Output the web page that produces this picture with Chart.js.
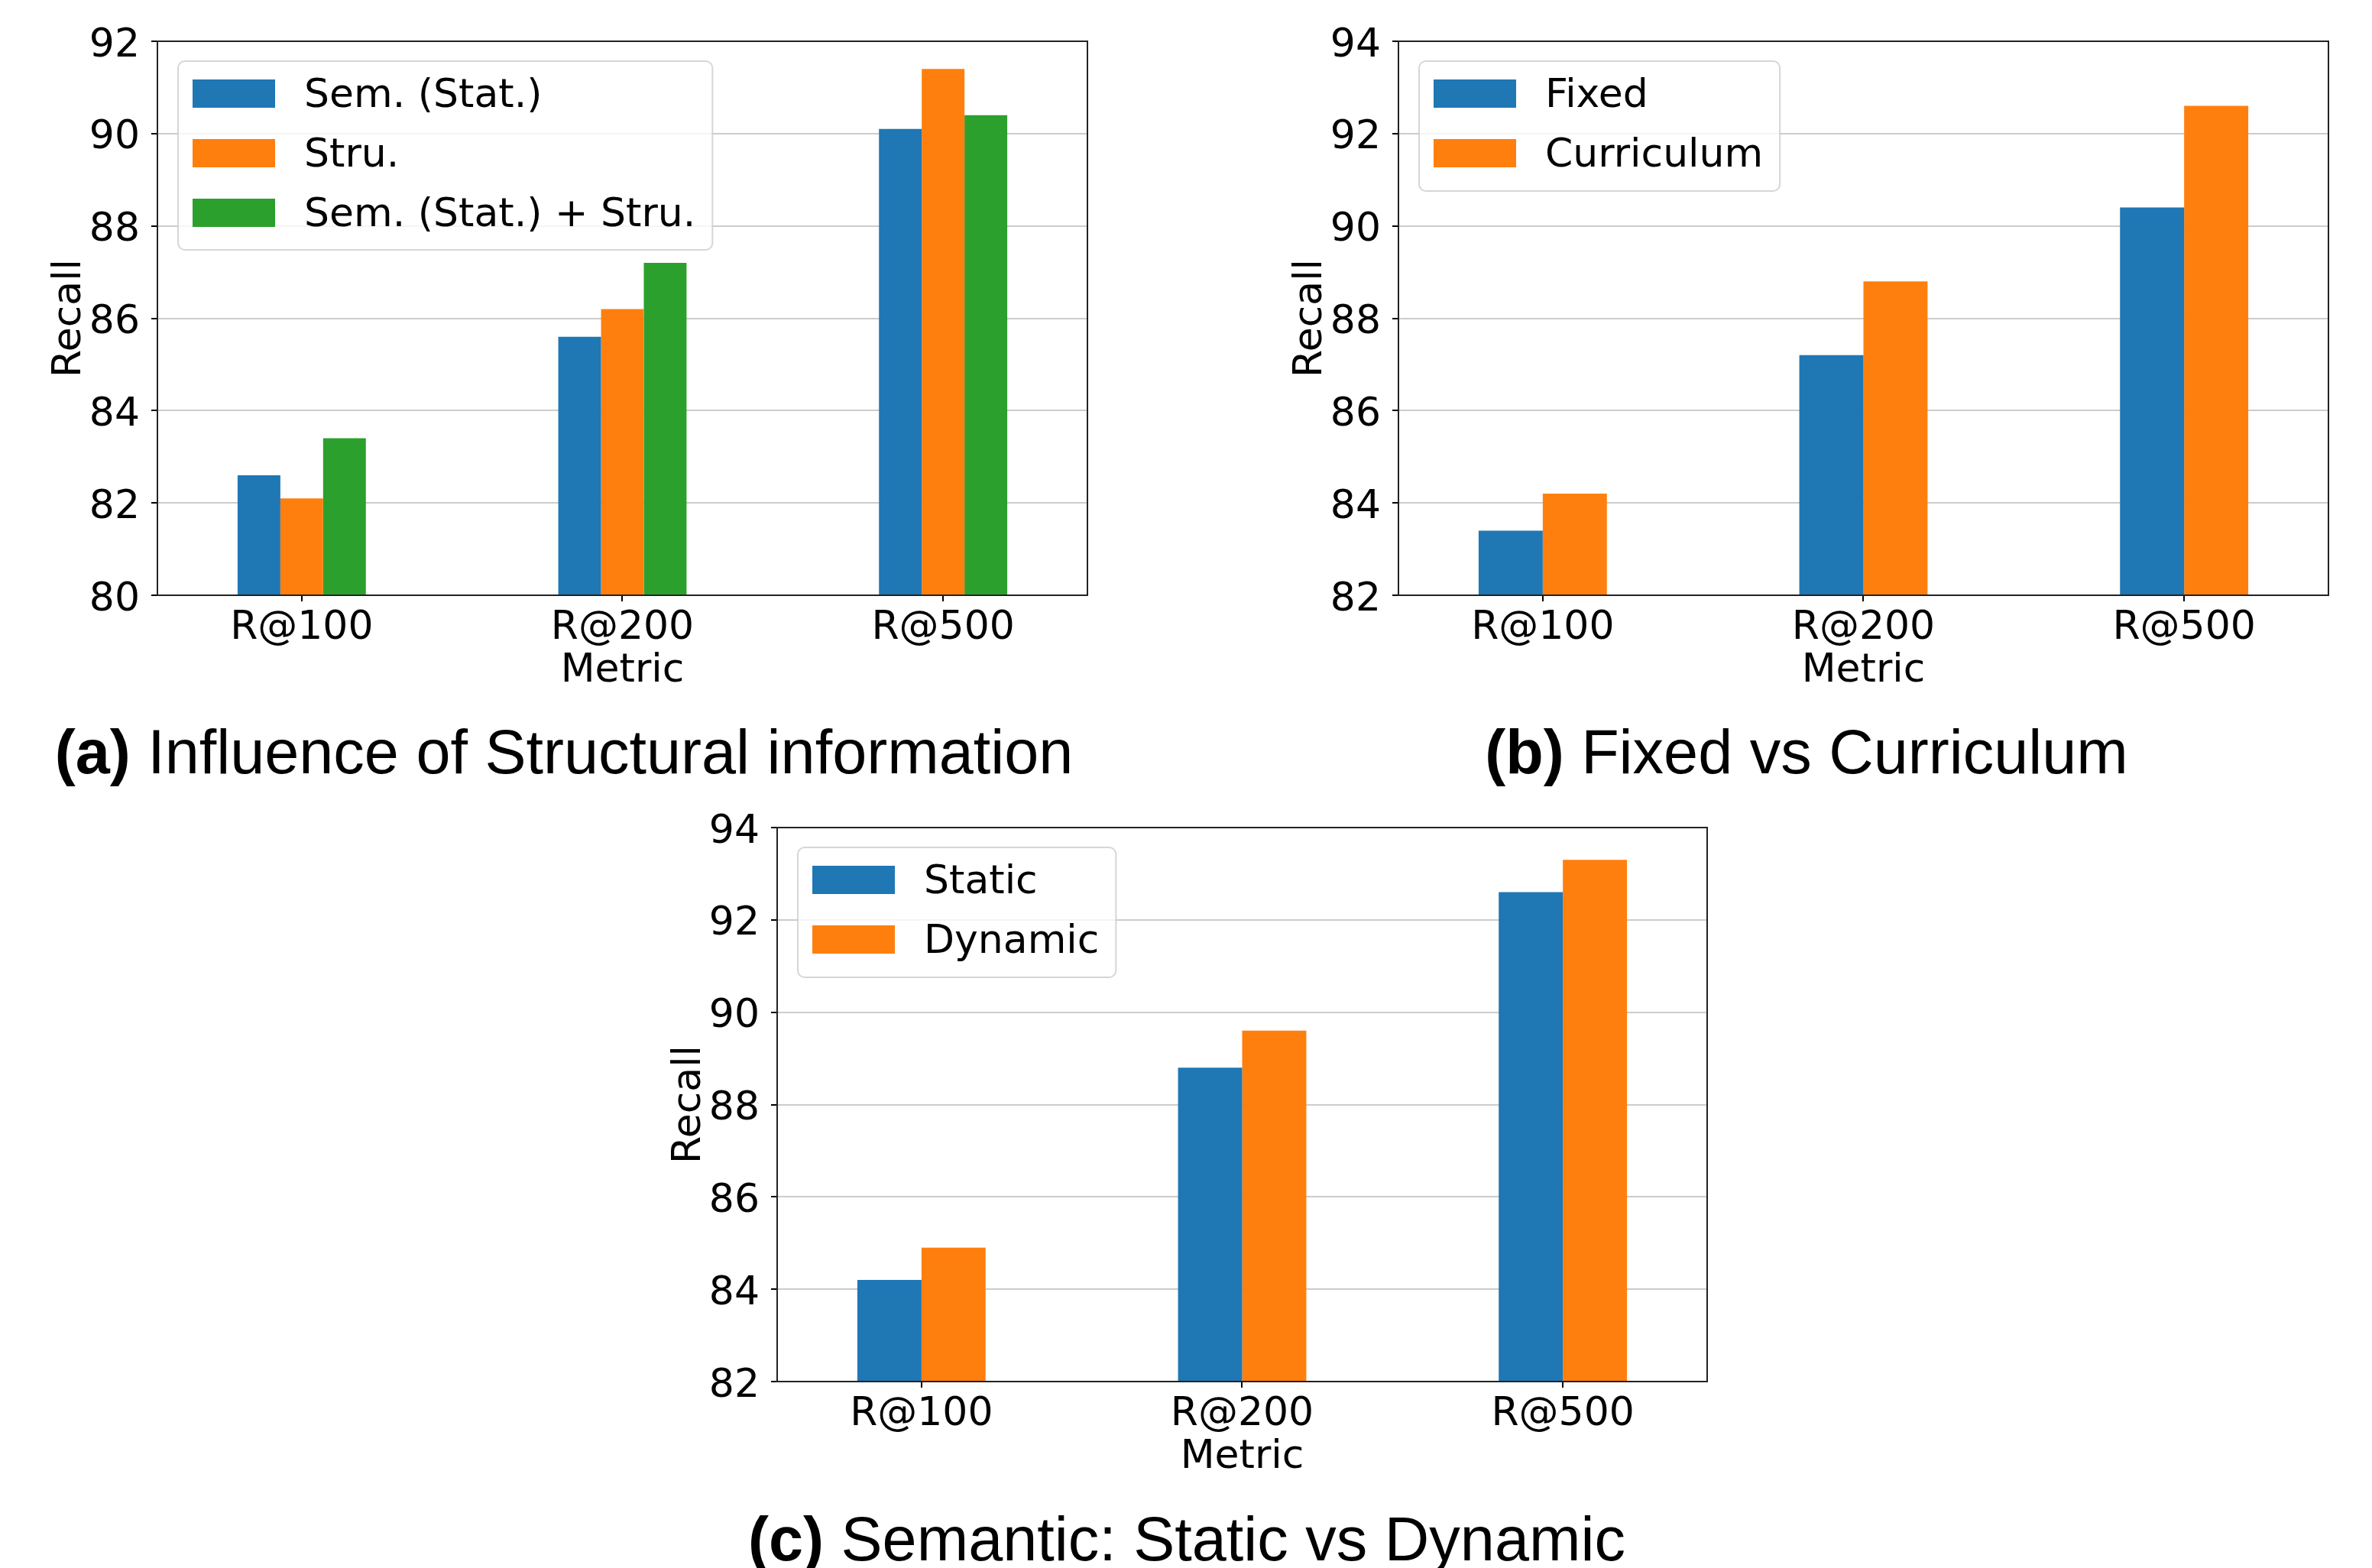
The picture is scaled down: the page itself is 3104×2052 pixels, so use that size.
<!DOCTYPE html>
<html>
<head>
<meta charset="utf-8">
<script src="https://cdn.jsdelivr.net/npm/chart.js@4.4.1/dist/chart.umd.min.js"></script>
<style>
  html, body { margin: 0; padding: 0; background: #fff; overflow: hidden; }
  body { width: 3104px; height: 2052px; position: relative; }
  canvas { position: absolute; }
  .caption {
    position: absolute; width: 2000px; text-align: center;
    font-family: "Liberation Sans", Arial, sans-serif; font-size: 81px; line-height: 81px;
    color: #000; white-space: nowrap;
  }
</style>
</head>
<body>
<canvas id="chartA" width="1500" height="920" style="left:0px; top:0px;"></canvas>
<canvas id="chartB" width="1480" height="920" style="left:1624px; top:0px;"></canvas>
<canvas id="chartC" width="1500" height="920" style="left:811px; top:1029px;"></canvas>
<div class="caption" style="left:-262px; top:944px;"><b>(a)</b> Influence of Structural information</div>
<div class="caption" style="left:1364px; top:944px;"><b>(b)</b> Fixed vs Curriculum</div>
<div class="caption" style="left:553px; top:1974px;"><b>(c)</b> Semantic: Static vs Dynamic</div>
<script>
const metrics = ['R@100', 'R@200', 'R@500'];

// (a) structural info
const semStat = [82.6, 85.6, 90.1];
const stru = [82.1, 86.2, 91.4];
const semStatStru = [83.4, 87.2, 90.4];

// (b) fixed vs curriculum
const fixedVals = [83.4, 87.2, 90.4];
const curriculumVals = [84.2, 88.8, 92.6];

// (c) static vs dynamic
const staticVals = [84.2, 88.8, 92.6];
const dynamicVals = [84.9, 89.6, 93.3];

const yRangeA = [80, 92];
const yRangeBC = [82, 94];
const yStep = 2;

const blue = '#1f77b4', orange = '#ff7f0e', green = '#2ca02c';
const tickFont = { family: 'DejaVu Sans', size: 52 };
// y labels: empty first line + small line height nudges the number down onto its gridline
const yTickFont = { family: 'DejaVu Sans', size: 52, lineHeight: '12px' };

// frame round the plot + matplotlib-like legend box
const frameAndLegend = {
    id: 'frameAndLegend',
    afterDatasetsDraw(chart)
    {
        const ctx = chart.ctx;
        const area = chart.chartArea;
        ctx.save();
        ctx.strokeStyle = '#222';
        ctx.lineWidth = 2;
        ctx.strokeRect(area.left, area.top, area.right - area.left, area.bottom - area.top);

        const sets = chart.data.datasets;
        ctx.font = '52px "DejaVu Sans"';
        const textW = Math.max(...sets.map(d => ctx.measureText(d.label).width));
        const x = area.left + 27, y = area.top + 26;
        const w = 165 + textW + 22, h = 16 + 77 * sets.length;
        ctx.beginPath();
        ctx.roundRect(x, y, w, h, 9);
        ctx.fillStyle = 'rgba(255,255,255,0.8)';
        ctx.fill();
        ctx.strokeStyle = 'rgba(204,204,204,0.8)';
        ctx.lineWidth = 2;
        ctx.stroke();

        sets.forEach((d, i) =>
        {
            const cy = y + 42 + 78 * i;
            ctx.fillStyle = d.backgroundColor;
            ctx.fillRect(x + 19, cy - 18, 108, 37);
            ctx.fillStyle = '#000';
            ctx.textBaseline = 'middle';
            ctx.textAlign = 'left';
            ctx.fillText(d.label, x + 165, cy + 4);
        });
        ctx.restore();
    }
};

function makeChart(id, series, yRange, padRight)
{
    const datasets = series.map(s => ({
        label: s.label,
        data: s.values.map((v, i) => ({ x: i, y: v })),
        backgroundColor: s.color,
        borderWidth: 0,
        categoryPercentage: 0.4,
        barPercentage: 1.0
    }));

    new Chart(document.getElementById(id), {
        type: 'bar',
        data: { datasets: datasets },
        options: {
            responsive: false,
            animation: false,
            layout: { padding: { left: 50, top: 54, right: padRight, bottom: 10 } },
            plugins: { legend: { display: false }, tooltip: { enabled: false } },
            scales: {
                x: {
                    type: 'linear',
                    min: -0.45,
                    max: 2.45,
                    offset: false,
                    afterBuildTicks: axis => { axis.ticks = metrics.map((m, i) => ({ value: i })); },
                    afterFit: axis => { axis.height = 131; },
                    ticks: { callback: v => metrics[v], font: tickFont, color: '#000', padding: 4, maxRotation: 0, autoSkip: false },
                    grid: { drawOnChartArea: false, drawTicks: true, tickLength: 8, color: '#000', lineWidth: 2, offset: false },
                    border: { display: false },
                    title: { display: true, text: 'Metric', font: tickFont, color: '#000', padding: { top: 0, bottom: 0 } }
                },
                y: {
                    min: yRange[0],
                    max: yRange[1],
                    afterFit: axis => { axis.width = 156; },
                    ticks: { stepSize: yStep, font: yTickFont, color: '#000', padding: 15, callback: v => ['', String(v)] },
                    grid: { color: '#cccccc', lineWidth: 2, tickLength: 8, tickColor: '#000', tickWidth: 2 },
                    border: { display: false },
                    title: { display: true, text: 'Recall', font: tickFont, color: '#000', padding: { top: 10, bottom: 0 } }
                }
            }
        },
        plugins: [frameAndLegend]
    });
}

makeChart('chartA', [
    { label: 'Sem. (Stat.)', values: semStat, color: blue },
    { label: 'Stru.', values: stru, color: orange },
    { label: 'Sem. (Stat.) + Stru.', values: semStatStru, color: green }
], yRangeA, 77);

makeChart('chartB', [
    { label: 'Fixed', values: fixedVals, color: blue },
    { label: 'Curriculum', values: curriculumVals, color: orange }
], yRangeBC, 57);

makeChart('chartC', [
    { label: 'Static', values: staticVals, color: blue },
    { label: 'Dynamic', values: dynamicVals, color: orange }
], yRangeBC, 77);
</script>
</body>
</html>
